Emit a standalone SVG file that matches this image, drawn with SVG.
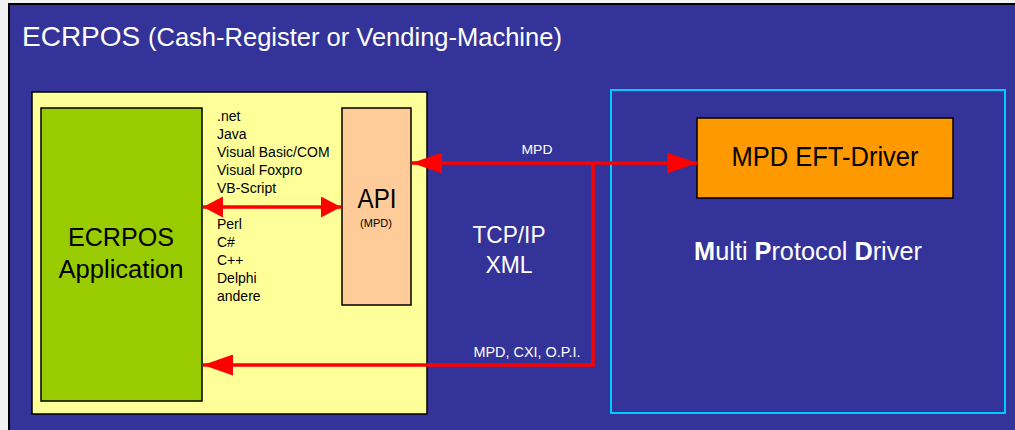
<svg xmlns="http://www.w3.org/2000/svg" width="1015" height="430" viewBox="0 0 1015 430">
<style>
.t{font-family:"Liberation Sans",Arial,sans-serif}
.w{fill:#ffffff}
.k{fill:#000000}
.conn{stroke:#ff0000;stroke-width:3.5;fill:none}
</style>
<defs>
<marker id="ah" viewBox="0 0 30 21" refX="30" refY="10.5" markerWidth="30" markerHeight="21" markerUnits="userSpaceOnUse" orient="auto-start-reverse">
<path d="M0,0 L30,10.5 L0,21 Z" fill="#ff0000"/>
</marker>
<marker id="ahs" viewBox="0 0 20 21" refX="20" refY="10.5" markerWidth="20" markerHeight="21" markerUnits="userSpaceOnUse" orient="auto-start-reverse">
<path d="M0,0 L20,10.5 L0,21 Z" fill="#ff0000"/>
</marker>
</defs>
<rect x="0" y="0" width="1015" height="430" fill="#f2f2f2"/>
<rect id="bg" x="9" y="4" width="1020" height="440" fill="#343399" stroke="#000" stroke-width="2"/>
<text class="t w" x="22" y="46" font-size="28">ECRPOS <tspan font-size="25.5">(Cash-Register or Vending-Machine)</tspan></text>
<g id="ecrpos-box">
<rect x="32" y="92" width="395" height="322" fill="#ffff99" stroke="#000" stroke-width="1.5"/>
</g>
<g id="ecrpos-app">
<rect x="41" y="108" width="161" height="293" fill="#99cc00" stroke="#000" stroke-width="1.5"/>
<text class="t k" x="121" y="246" font-size="26" text-anchor="middle" textLength="106" lengthAdjust="spacingAndGlyphs">ECRPOS</text>
<text class="t k" x="121" y="278" font-size="26" text-anchor="middle" textLength="125" lengthAdjust="spacingAndGlyphs">Application</text>
</g>
<g id="languages" class="t k" font-size="14">
<text x="217" y="121">.net</text>
<text x="217" y="139">Java</text>
<text x="217" y="157">Visual Basic/COM</text>
<text x="217" y="175">Visual Foxpro</text>
<text x="217" y="193">VB-Script</text>
<text x="217" y="229">Perl</text>
<text x="217" y="247">C#</text>
<text x="217" y="265">C++</text>
<text x="217" y="283">Delphi</text>
<text x="217" y="301">andere</text>
</g>
<g id="api">
<rect x="342" y="108" width="69" height="197" fill="#ffcc99" stroke="#000" stroke-width="1.5"/>
<text class="t k" x="377" y="208" font-size="27" text-anchor="middle" textLength="39" lengthAdjust="spacingAndGlyphs">API</text>
<text class="t k" x="376" y="227" font-size="11" text-anchor="middle">(MPD)</text>
</g>
<g id="mpd-box">
<rect x="611" y="90" width="394" height="323" fill="none" stroke="#00ccff" stroke-width="2"/>
<text class="t w" x="808" y="260" font-size="25.3" text-anchor="middle"><tspan font-weight="bold">M</tspan>ulti <tspan font-weight="bold">P</tspan>rotocol <tspan font-weight="bold">D</tspan>river</text>
</g>
<g id="eft-driver">
<rect x="697" y="118" width="256" height="80" fill="#ff9900" stroke="#000" stroke-width="1.5"/>
<text class="t k" x="825" y="166" font-size="28" text-anchor="middle" textLength="187" lengthAdjust="spacingAndGlyphs">MPD EFT-Driver</text>
</g>
<g id="tcpip">
<text class="t w" x="509" y="243" font-size="24" text-anchor="middle" textLength="73" lengthAdjust="spacingAndGlyphs">TCP/IP</text>
<text class="t w" x="509" y="273" font-size="24" text-anchor="middle" textLength="47" lengthAdjust="spacingAndGlyphs">XML</text>
</g>
<g id="connectors">
<line class="conn" x1="203" y1="207" x2="341" y2="207" marker-start="url(#ahs)" marker-end="url(#ahs)"/>
<line class="conn" x1="412" y1="163" x2="697" y2="163" marker-start="url(#ah)" marker-end="url(#ah)"/>
<polyline class="conn" points="593,163 593,365 203,365" marker-end="url(#ah)"/>
<text class="t w" x="537" y="154" font-size="13" text-anchor="middle" textLength="31" lengthAdjust="spacingAndGlyphs">MPD</text>
<text class="t w" x="527" y="357" font-size="14" text-anchor="middle" textLength="107" lengthAdjust="spacingAndGlyphs">MPD, CXI, O.P.I.</text>
</g>
</svg>
